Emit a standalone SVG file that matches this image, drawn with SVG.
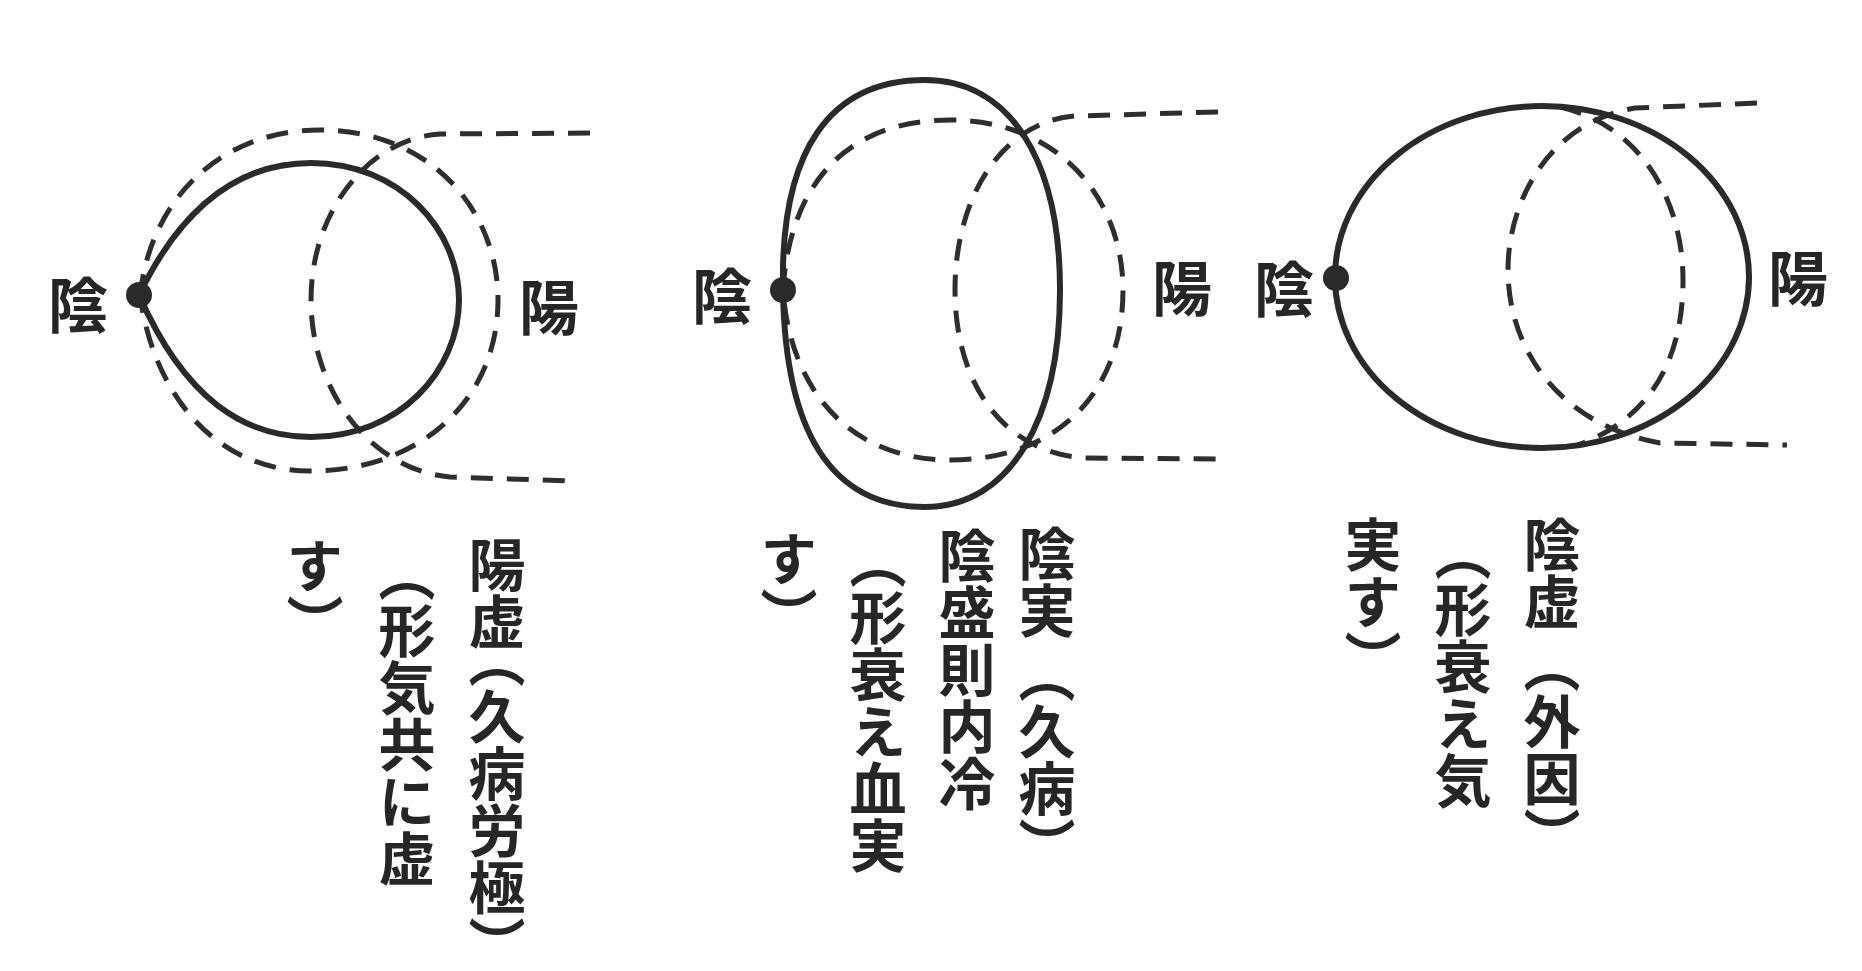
<svg xmlns="http://www.w3.org/2000/svg" width="1862" height="971" viewBox="0 0 1862 971">
<style>
.bg{fill:#ffffff}
.solid{fill:none;stroke:#2a2a2a;stroke-width:6;stroke-linejoin:round;stroke-linecap:round}
.dash{fill:none;stroke:#2e2e2e;stroke-width:5;stroke-dasharray:22 14}
.dot{fill:#2a2a2a}
.lbl{font-family:"Noto Sans CJK JP","Noto Sans CJK SC",sans-serif;font-size:60px;font-weight:700;fill:#262626;text-anchor:middle;dominant-baseline:central}
.col{font-family:"Noto Sans CJK JP","Noto Sans CJK SC",sans-serif;font-size:57px;font-weight:700;fill:#262626;writing-mode:vertical-rl}
</style>
<rect class="bg" x="0" y="0" width="1862" height="971"/>

<g id="diagram1">
  <path class="dash" d="M140,296 C150,200 220,130 320,130 C430,130 498,210 498,300 C498,400 420,471 310,471 C220,471 155,400 140,296 Z"/>
  <path class="dash" d="M590,133 L440,134 C370,138 311,210 311,300 C311,390 370,470 450,477 L572,481"/>
  <path class="solid" d="M139,295 C185,200 245,163 311,163 C400,163 459,230 459,300 C459,370 400,437 311,437 C245,437 185,400 139,295 Z"/>
  <circle class="dot" cx="139" cy="295" r="13"/>
  <text class="lbl" x="78" y="301">陰</text>
  <text class="lbl" x="549" y="303">陽</text>
  <text class="col" x="497" y="536">陽虚<tspan y="631">（久病労極）</tspan></text>
  <text class="col" x="407" y="545">（形気共に虚</text>
  <text class="col" x="315" y="537">す）</text>
</g>

<g id="diagram2">
  <path class="dash" d="M783,290 C790,180 850,120 950,120 C1060,120 1123,200 1123,290 C1123,390 1060,460 950,460 C850,460 790,390 783,290 Z"/>
  <path class="dash" d="M1218,112 L1075,116 C1000,122 955,200 955,290 C955,380 1000,452 1085,458 L1223,459"/>
  <path class="solid" d="M783,290 C780,150 830,80 925,80 C1010,80 1060,160 1060,290 C1060,420 1010,507 925,507 C830,507 785,430 783,290 Z"/>
  <circle class="dot" cx="783" cy="290" r="13"/>
  <text class="lbl" x="722" y="292">陰</text>
  <text class="lbl" x="1182" y="284">陽</text>
  <text class="col" x="1047" y="525">陰実<tspan y="646">（久病）</tspan></text>
  <text class="col" x="967" y="527">陰盛則内冷</text>
  <text class="col" x="878" y="532">（形衰え血実</text>
  <text class="col" x="789" y="530">す）</text>
</g>

<g id="diagram3">
  <path class="dash" d="M1757,103 L1635,108 C1550,122 1508,200 1508,270 C1508,350 1560,425 1660,443 L1787,445"/>
  <path class="dash" d="M1560,107 C1640,125 1683,200 1683,280 C1683,360 1650,420 1575,446"/>
  <ellipse class="solid" cx="1542" cy="277" rx="207" ry="171"/>
  <circle class="dot" cx="1336" cy="278" r="13"/>
  <text class="lbl" x="1284" y="285">陰</text>
  <text class="lbl" x="1798" y="274">陽</text>
  <text class="col" x="1552" y="516">陰虚<tspan y="636">（外因）</tspan></text>
  <text class="col" x="1463" y="524">（形衰え気</text>
  <text class="col" x="1373" y="516">実す）</text>
</g>

<g id="connectors"></g>
</svg>
